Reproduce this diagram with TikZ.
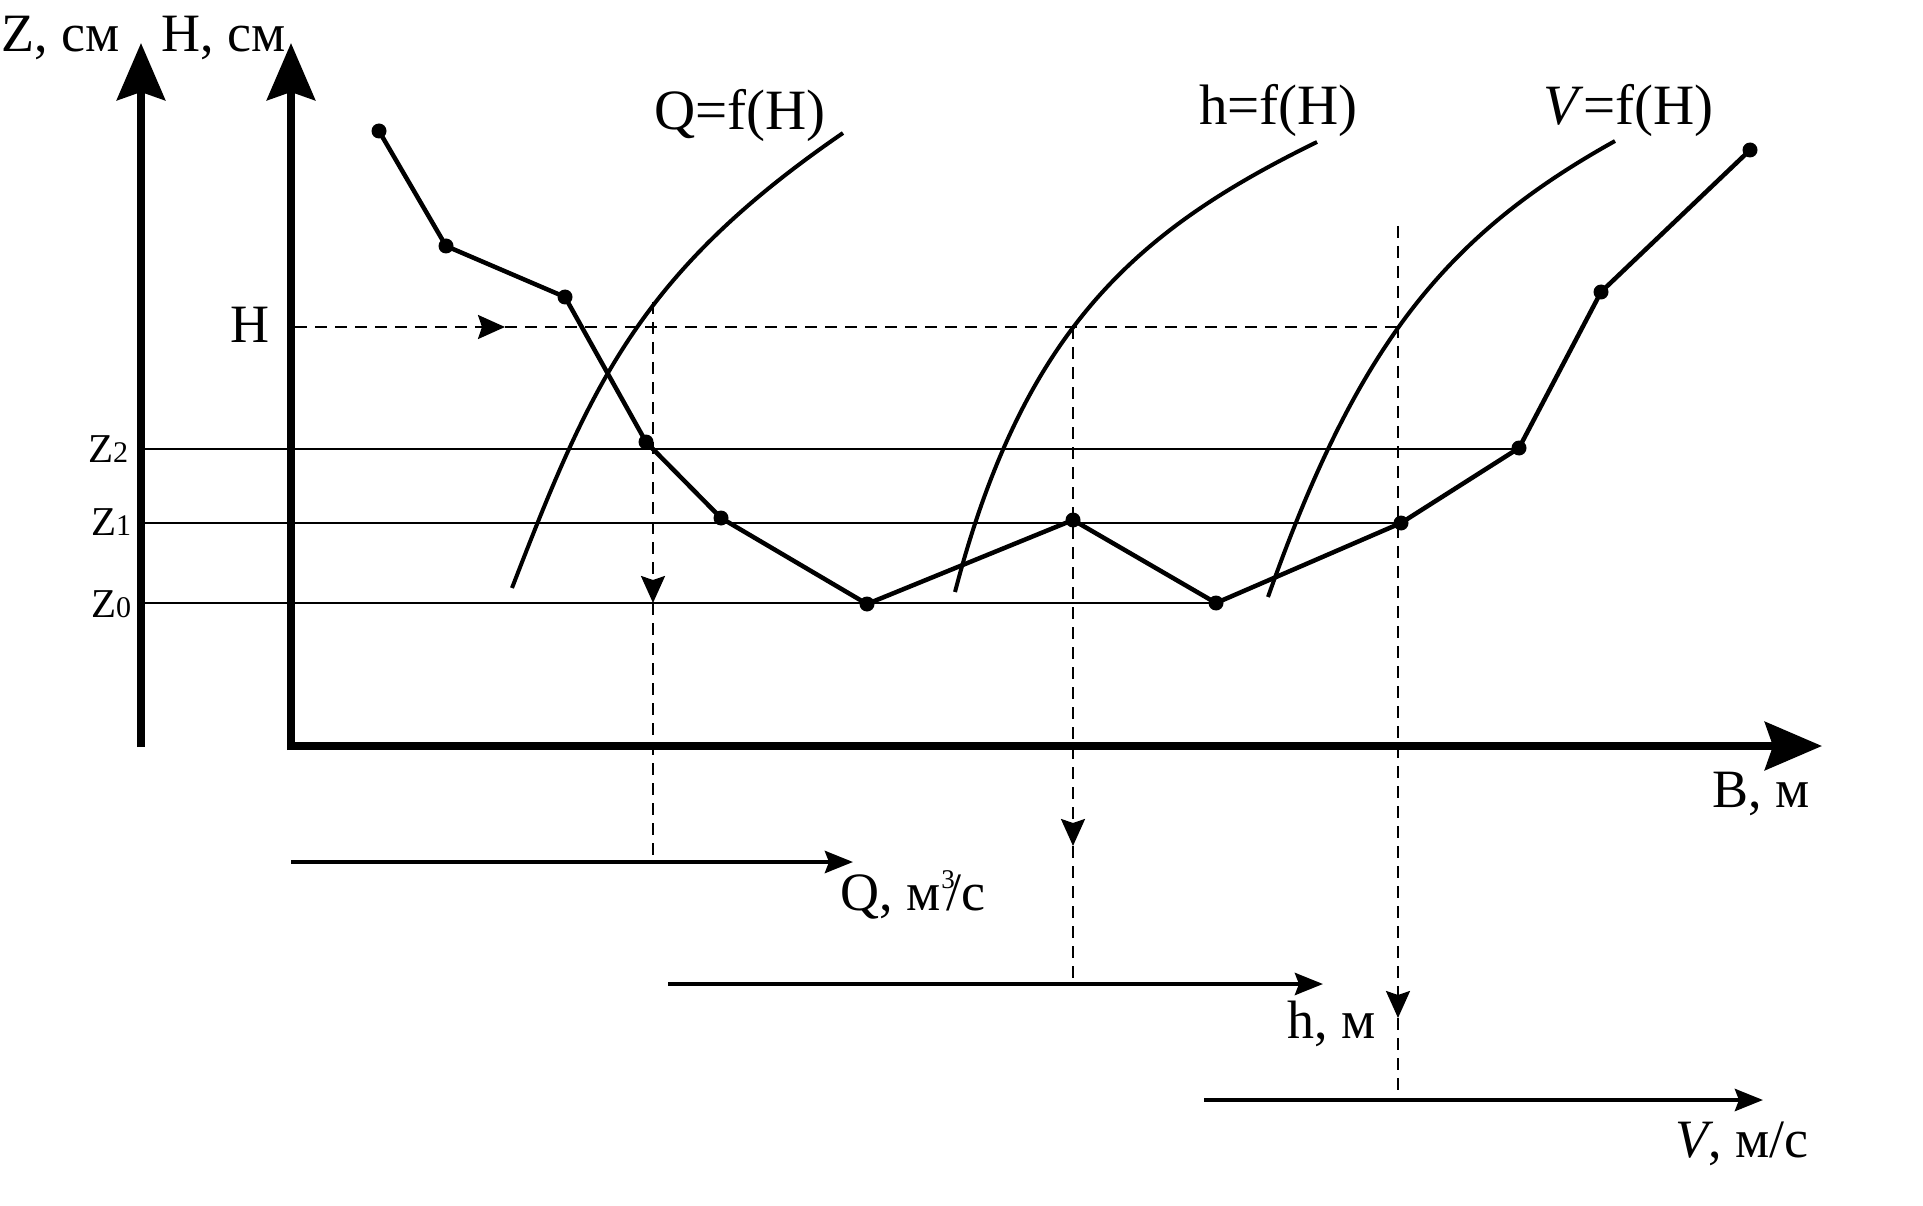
\documentclass[tikz,border=0pt]{standalone}
\usepackage{fontspec}
\setmainfont{Liberation Serif}
\usetikzlibrary{arrows.meta}
\begin{document}
\begin{tikzpicture}[x=1pt,y=-1pt,
  lbl/.style={inner sep=0pt, anchor=base west, font=\fontsize{54}{60}\selectfont},
  flbl/.style={inner sep=0pt, anchor=base west, font=\fontsize{57}{62}\selectfont},
  zl/.style={inner sep=0pt, anchor=base west, font=\fontsize{41}{44}\selectfont},
  axis/.style={line width=8pt, -{Stealth[length=57pt,width=48pt,inset=8pt]}},
  saxis/.style={line width=4.5pt, -{Stealth[length=28pt,width=22pt,inset=4pt]}},
  bed/.style={line width=4.5pt, line join=round},
  crv/.style={line width=4pt},
  level/.style={line width=2pt},
  guide/.style={line width=2.5pt, dash pattern=on 12pt off 8pt},
  gtip/.style={-{Stealth[length=27pt,width=24pt,inset=4pt]}},
  dot/.style={circle, fill, inner sep=0pt, minimum size=15pt}
]
\useasboundingbox (0,0) rectangle (1923,1206);

% axes
\coordinate (Zb) at (141,747); \coordinate (Zt) at (141,43);
\coordinate (Hb) at (291,750); \coordinate (Ht) at (291,43);
\coordinate (Bs) at (287,746); \coordinate (Be) at (1822,746);
\draw[axis] (Zb) -- (Zt);
\draw[axis] (Hb) -- (Ht);
\draw[axis] (Bs) -- (Be);

% bed profile points
\coordinate (P1) at (379,131);
\coordinate (P2) at (446,246);
\coordinate (P3) at (565,297);
\coordinate (P4) at (646,442);
\coordinate (P5) at (721,518);
\coordinate (P6) at (867,604);
\coordinate (P7) at (1073,520);
\coordinate (P8) at (1216,603);
\coordinate (P9) at (1401,523);
\coordinate (P10) at (1519,448);
\coordinate (P11) at (1601,292);
\coordinate (P12) at (1750,150);

% level lines
\coordinate (z2L) at (145,449); \coordinate (z2R) at (1519,449);
\coordinate (z1L) at (145,523); \coordinate (z1R) at (1401,523);
\coordinate (z0L) at (145,603); \coordinate (z0R) at (1216,603);
\draw[level] (z2L) -- (z2R);
\draw[level] (z1L) -- (z1R);
\draw[level] (z0L) -- (z0R);

% curves
\coordinate (Qa) at (512,588); \coordinate (Qb) at (843,133);
\coordinate (ha) at (955,592); \coordinate (hb) at (1317,142);
\coordinate (Va) at (1268,597); \coordinate (Vb) at (1615,141);
\draw[crv] (Qa) .. controls (590,386) and (639,273) .. (Qb);
\draw[crv] (ha) .. controls (1024,327) and (1139,229) .. (hb);
\draw[crv] (Va) .. controls (1358,342) and (1448,234) .. (Vb);

% bed polyline
\draw[bed] (P1) -- (P2) -- (P3) -- (P4) -- (P5) -- (P6) -- (P7) -- (P8) -- (P9) -- (P10) -- (P11) -- (P12);
\foreach \p in {P1,P2,P3,P4,P5,P6,P7,P8,P9,P10,P11,P12} \node[dot] (d\p) at (\p) {};

% H guide
\coordinate (Hs) at (295,327); \coordinate (Hm) at (505,327); \coordinate (He) at (1398,327);
\draw[guide,gtip] (Hs) -- (Hm);
\draw[guide] (Hm) -- (He);

% vertical guides
\coordinate (D1s) at (653,302); \coordinate (D1m) at (653,603); \coordinate (D1e) at (653,862);
\coordinate (D2s) at (1073,327); \coordinate (D2m) at (1073,846); \coordinate (D2e) at (1073,984);
\coordinate (D3s) at (1398,226); \coordinate (D3m) at (1398,1018); \coordinate (D3e) at (1398,1100);
\draw[guide,gtip] (D1s) -- (D1m); \draw[guide] (D1m) -- (D1e);
\draw[guide,gtip] (D2s) -- (D2m); \draw[guide] (D2m) -- (D2e);
\draw[guide,gtip] (D3s) -- (D3m); \draw[guide] (D3m) -- (D3e);

% lower axes
\coordinate (Qs) at (291,862); \coordinate (Qe) at (853,862);
\coordinate (hs) at (668,984); \coordinate (he) at (1323,984);
\coordinate (Vs) at (1204,1100); \coordinate (Ve) at (1763,1100);
\draw[saxis] (Qs) -- (Qe);
\draw[saxis] (hs) -- (he);
\draw[saxis] (Vs) -- (Ve);

% labels
\node[lbl] (tZ) at (1,52) {Z, см};
\node[lbl] (tH) at (161,52) {H, см};
\node[flbl] (tQf) at (654,130) {Q=f(H)};
\node[flbl] (thf) at (1199,125) {h=f(H)};
\node[flbl] (tVf) at (1543,125) {\textit{V}=f(H)};
\node[lbl] (tHH) at (230,343) {H};
\node[zl] (tz2) at (88,462) {Z{\fontsize{30}{32}\selectfont 2}};
\node[zl] (tz1) at (91,535) {Z{\fontsize{30}{32}\selectfont 1}};
\node[zl] (tz0) at (91,617) {Z{\fontsize{30}{32}\selectfont 0}};
\node[lbl] (tB) at (1712,807) {B, м};
\node[lbl] (tQ) at (840,910) {Q, м\kern1pt\makebox[0pt][l]{\raisebox{22pt}{\fontsize{27}{28}\selectfont 3}}\kern5pt/с};
\node[lbl] (th) at (1287,1038) {h, м};
\node[lbl] (tV) at (1675,1157) {\textit{V}, м/с};
\end{tikzpicture}
\end{document}
